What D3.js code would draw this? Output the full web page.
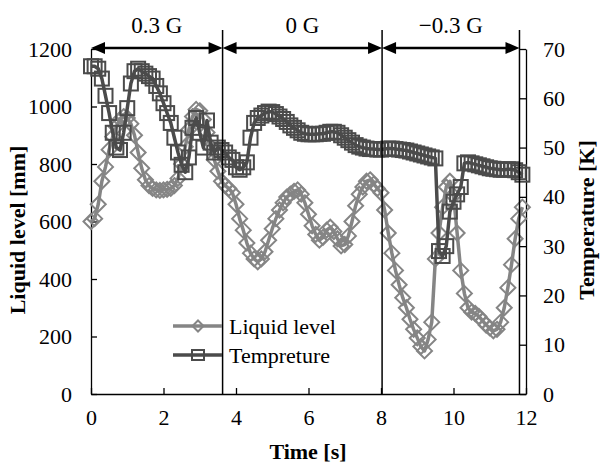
<!DOCTYPE html>
<html>
<head>
<meta charset="utf-8">
<script src="https://cdn.jsdelivr.net/npm/d3@7"></script>
<style>
  body { margin: 0; background: #fff; }
  text { font-family: "Liberation Serif", "Times New Roman", serif; fill: #000; }
</style>
</head>
<body>
<svg id="chart" width="606" height="464"></svg>
<script>
// time [s]
const times = [
  0.0, 0.1, 0.2, 0.3, 0.4, 0.5, 0.6, 0.7, 0.8, 0.9,
  1.0, 1.1, 1.2, 1.3, 1.4, 1.5, 1.6, 1.7, 1.8, 1.9,
  2.0, 2.1, 2.2, 2.3, 2.4, 2.5, 2.6, 2.7, 2.8, 2.9,
  3.0, 3.1, 3.2, 3.3, 3.4, 3.5, 3.6, 3.7, 3.8, 3.9,
  4.0, 4.1, 4.2, 4.3, 4.4, 4.5, 4.6, 4.7, 4.8, 4.9,
  5.0, 5.1, 5.2, 5.3, 5.4, 5.5, 5.6, 5.7, 5.8, 5.9,
  6.0, 6.1, 6.2, 6.3, 6.4, 6.5, 6.6, 6.7, 6.8, 6.9,
  7.0, 7.1, 7.2, 7.3, 7.4, 7.5, 7.6, 7.7, 7.8, 7.9,
  8.0, 8.1, 8.2, 8.3, 8.4, 8.5, 8.6, 8.7, 8.8, 8.9,
  9.0, 9.1, 9.2, 9.3, 9.4, 9.5, 9.6, 9.7, 9.8, 9.9,
  10.0, 10.1, 10.2, 10.3, 10.4, 10.5, 10.6, 10.7, 10.8, 10.9,
  11.0, 11.1, 11.2, 11.3, 11.4, 11.5, 11.6, 11.7, 11.8, 11.9
]

// liquid level [mm]
const liquidLevel = [
  600, 610, 660, 740, 790, 850, 895, 930, 955, 965,
  960, 940, 900, 840, 785, 745, 725, 715, 710, 708,
  710, 712, 715, 725, 750, 800, 860, 920, 965, 990,
  985, 955, 910, 860, 815, 775, 740, 725, 715, 700,
  660, 610, 570, 525, 490, 470, 460, 470, 495, 535,
  575, 610, 640, 665, 685, 695, 705, 710, 695, 665,
  625, 585, 555, 535, 545, 570, 580, 565, 540, 515,
  520, 550, 600, 655, 695, 720, 740, 745, 730, 715,
  700, 640, 560, 490, 430, 380, 335, 300, 260, 225,
  195, 165, 150, 190, 250, 470, 560, 650, 720, 740,
  690, 560, 430, 350, 300, 285, 280, 270, 255, 240,
  230, 220, 225, 250, 300, 370, 450, 540, 610, 650
]

// temperature [K]
const temperature = [
  66.5, 66.5, 66, 64, 60.5, 57, 53, 50, 49.5, 53,
  58, 63, 65.5, 66, 65.5, 65, 64.5, 64, 62.5, 61,
  59, 57, 55, 52, 49, 46.5, 45, 48, 54, 56,
  53, 50, 55.5, 51, 49, 50, 49.5, 49, 48, 47.5,
  46, 45.5, 46, 47, 52, 55, 56, 56.5, 57, 57.3,
  57.2, 56.8, 56.3, 55.8, 55.2, 54.5, 54, 53.5, 53, 52.8,
  52.7, 52.7, 52.7, 52.8, 52.8, 53, 53.2, 53.2, 53, 52.5,
  52, 51.5, 51, 50.5, 50.2, 50, 49.8, 49.7, 49.7, 49.6,
  49.6, 49.7, 49.8, 49.8, 49.7, 49.6, 49.5, 49.4, 49.2, 49,
  48.8, 48.6, 48.4, 48.2, 48, 47.8, 29, 28, 30, 37,
  39, 40.5, 42, 46.8, 47, 46.8, 46.6, 46.4, 46.2, 46,
  45.8, 45.7, 45.6, 45.5, 45.5, 45.6, 45.6, 45.4, 45, 44.5
]

// gravity phases
const phaseBounds = [0, 3.63, 8.03, 11.82]
const phaseLabels = ['0.3 G', '0 G', '\u22120.3 G']

const xTicks = [0, 2, 4, 6, 8, 10, 12]
const levelTicks = [0, 200, 400, 600, 800, 1000, 1200]
const tempTicks = [0, 10, 20, 30, 40, 50, 60, 70]

const levelColor = '#858585'
const tempColor = '#4b4b4b'

const svg = d3.select('#chart')
const plotLeft = 91, plotRight = 526, plotTop = 49, plotBottom = 394

const x = d3.scaleLinear().domain([0, 12]).range([plotLeft, plotRight])
const yL = d3.scaleLinear().domain([0, 1200]).range([plotBottom, plotTop])
const yT = d3.scaleLinear().domain([0, 70]).range([plotBottom, plotTop])

// axes
const axisStyle = (g) => {
  g.select('.domain').attr('stroke', '#000').attr('stroke-width', 1.3)
  g.selectAll('.tick line').attr('stroke', '#000').attr('stroke-width', 1.3)
  g.selectAll('.tick text').style('font-size', '22px').style('font-family', '"Liberation Serif", serif')
}

svg.append('g')
  .attr('transform', `translate(0,${plotBottom})`)
  .call(d3.axisBottom(x).tickValues(xTicks).tickSizeInner(-6).tickSizeOuter(0).tickPadding(15).tickFormat(d3.format('d')))
  .call(axisStyle)

svg.append('g')
  .attr('transform', `translate(${plotLeft},0)`)
  .call(d3.axisLeft(yL).tickValues(levelTicks).tickSizeInner(-6).tickSizeOuter(0).tickPadding(19).tickFormat(d3.format('d')))
  .call(axisStyle)

svg.append('g')
  .attr('transform', `translate(${plotRight},0)`)
  .call(d3.axisRight(yT).tickValues(tempTicks).tickSizeInner(-6).tickSizeOuter(0).tickPadding(17).tickFormat(d3.format('d')))
  .call(axisStyle)

// axis titles
svg.append('text')
  .attr('x', 308).attr('y', 459)
  .attr('text-anchor', 'middle')
  .style('font-size', '22px').style('font-weight', 'bold')
  .text('Time [s]')

svg.append('text')
  .attr('transform', 'translate(25,230) rotate(-90)')
  .attr('text-anchor', 'middle')
  .style('font-size', '22px').style('font-weight', 'bold')
  .text('Liquid level [mm]')

svg.append('text')
  .attr('transform', 'translate(594,220) rotate(-90)')
  .attr('text-anchor', 'middle')
  .style('font-size', '22px').style('font-weight', 'bold')
  .text('Temperature [K]')

// series
const diamond = (r) => `M0,${-r}L${r},0L0,${r}L${-r},0Z`

const levelLine = d3.line().x((d, i) => x(times[i])).y((d) => yL(d))
const tempLine = d3.line().x((d, i) => x(times[i])).y((d) => yT(d))

svg.append('path')
  .attr('d', levelLine(liquidLevel))
  .attr('fill', 'none')
  .attr('stroke', levelColor)
  .attr('stroke-width', 3.5)
  .attr('stroke-linejoin', 'round')

svg.append('g').selectAll('path')
  .data(liquidLevel)
  .enter()
  .append('path')
  .attr('d', diamond(7.5))
  .attr('transform', (d, i) => `translate(${x(times[i])},${yL(d)})`)
  .attr('fill', 'none')
  .attr('stroke', levelColor)
  .attr('stroke-width', 2)

svg.append('path')
  .attr('d', tempLine(temperature))
  .attr('fill', 'none')
  .attr('stroke', tempColor)
  .attr('stroke-width', 3.5)
  .attr('stroke-linejoin', 'round')

svg.append('g').selectAll('rect')
  .data(temperature)
  .enter()
  .append('rect')
  .attr('x', (d, i) => x(times[i]) - 7)
  .attr('y', (d) => yT(d) - 7)
  .attr('width', 14)
  .attr('height', 14)
  .attr('fill', 'none')
  .attr('stroke', tempColor)
  .attr('stroke-width', 2)

// phase boundaries and arrows
svg.append('g').selectAll('line')
  .data(phaseBounds.slice(1))
  .enter()
  .append('line')
  .attr('x1', (d) => x(d)).attr('x2', (d) => x(d))
  .attr('y1', 30).attr('y2', plotBottom)
  .attr('stroke', '#000')
  .attr('stroke-width', 1.5)

const arrowY = 48
const head = 14, half = 6
const arrows = svg.append('g')
phaseLabels.forEach((label, i) => {
  const a = x(phaseBounds[i]), b = x(phaseBounds[i + 1])
  arrows.append('line')
    .attr('x1', a + head - 1).attr('x2', b - head + 1)
    .attr('y1', arrowY).attr('y2', arrowY)
    .attr('stroke', '#000').attr('stroke-width', 2.5)
  arrows.append('path')
    .attr('d', `M${a},${arrowY}L${a + head},${arrowY - half}L${a + head},${arrowY + half}Z`)
    .attr('fill', '#000')
  arrows.append('path')
    .attr('d', `M${b},${arrowY}L${b - head},${arrowY - half}L${b - head},${arrowY + half}Z`)
    .attr('fill', '#000')
  arrows.append('text')
    .attr('x', (a + b) / 2).attr('y', 33)
    .attr('text-anchor', 'middle')
    .style('font-size', '23px')
    .text(label)
})

// legend
const legend = svg.append('g')
const legendRows = [
  { name: 'Liquid level', color: levelColor, y: 326, shape: 'diamond' },
  { name: 'Tempreture', color: tempColor, y: 355, shape: 'square' }
]
legendRows.forEach((row) => {
  legend.append('line')
    .attr('x1', 173).attr('x2', 222)
    .attr('y1', row.y).attr('y2', row.y)
    .attr('stroke', row.color).attr('stroke-width', 3.5)
  if (row.shape === 'diamond') {
    legend.append('path')
      .attr('d', diamond(5.5))
      .attr('transform', `translate(198,${row.y})`)
      .attr('fill', 'none').attr('stroke', row.color).attr('stroke-width', 2)
  } else {
    legend.append('rect')
      .attr('x', 192).attr('y', row.y - 5)
      .attr('width', 12).attr('height', 10)
      .attr('fill', 'none').attr('stroke', row.color).attr('stroke-width', 2)
  }
  legend.append('text')
    .attr('x', 229).attr('y', row.y + 8)
    .style('font-size', '22px')
    .text(row.name)
})
</script>
</body>
</html>
